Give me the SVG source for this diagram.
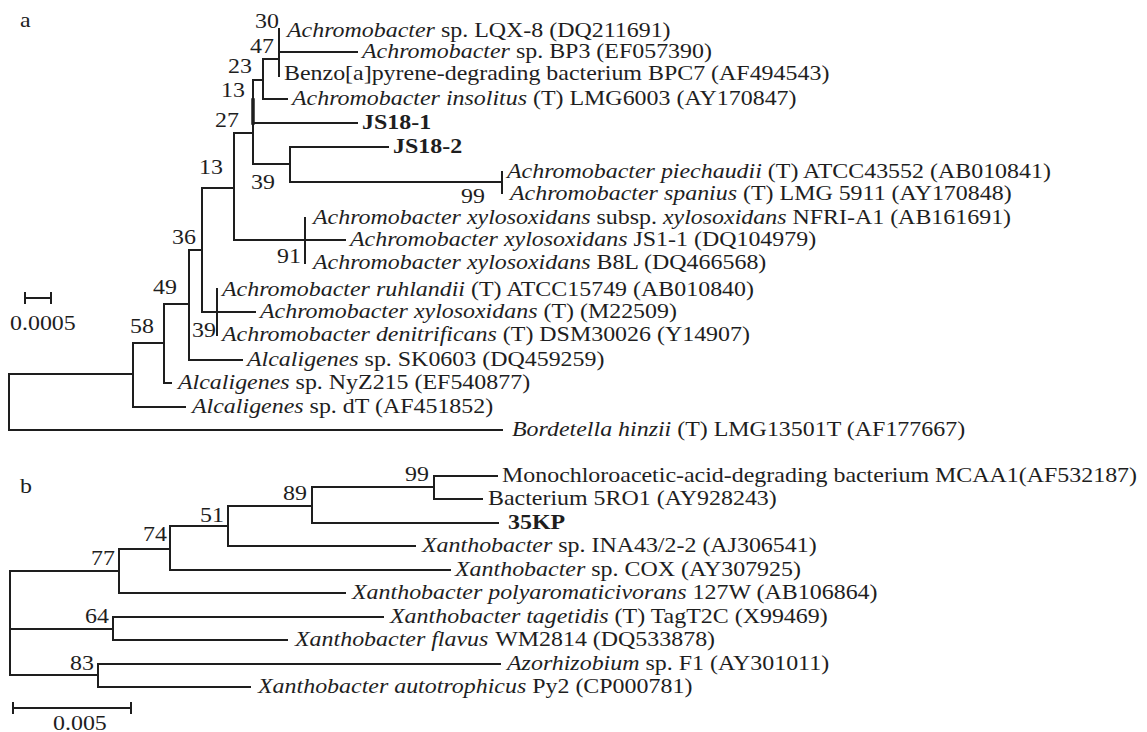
<svg xmlns="http://www.w3.org/2000/svg" width="1147" height="732" viewBox="0 0 1147 732">
<style>
text{font-family:"Liberation Serif","Times New Roman",serif;font-size:21px;fill:#1e1e1e}
.i{font-style:italic}
.b{font-weight:bold}
.br{fill:none;stroke:#1e1e1e;stroke-width:2;stroke-linecap:square}
</style>
<rect width="1147" height="732" fill="#fff"/>
<g id="connectors" class="br">
<path d="M9,374V430M9,374H133M133,343V407M133,343H164M133,407H185M164,304V383M164,383H171M164,304H189M189,250V360M189,360H242M189,250H202M202,188V312M202,312H255M217,289V335M202,188H234M234,133V240M234,240H345M305,218V263M234,133H253M253,80V164M253,164H290M290,147V182M290,147H388M290,182H502M502,172V193M253,123H357M253,80H263M263,59V99M263,99H287M263,59H279M279,29V76M279,52H357M9,430H502"/>
<path d="M253,100V123" stroke-width="3.5"/>
<path d="M25,298H51M25,293V303M51,293V303"/>
<path d="M10,571V675M10,571H119M119,549V593M119,593H345M119,549H170M170,526V570M170,570H450M170,526H228M228,506V546M228,546H415M228,506H312M312,487V523M312,523H498M312,487H434M434,476V499M434,476H497M434,499H482M10,629H113M113,617V640M113,617H383M113,640H287M10,675H98M98,664V687M98,664H500M98,687H250"/>
<path d="M13,708H131M13,703V713M131,703V713"/>
</g>
<g id="panel-labels">
<text transform="translate(20,27) scale(1.14,1)">a</text>
<text transform="translate(20,493) scale(1.14,1)">b</text>
</g>
<g id="bootstrap-a">
<text transform="translate(255,28) scale(1.14,1)">30</text>
<text transform="translate(250,53) scale(1.14,1)">47</text>
<text transform="translate(228,73) scale(1.14,1)">23</text>
<text transform="translate(221,97) scale(1.14,1)">13</text>
<text transform="translate(215,127) scale(1.14,1)">27</text>
<text transform="translate(199,174) scale(1.14,1)">13</text>
<text transform="translate(251,189) scale(1.14,1)">39</text>
<text transform="translate(461,203) scale(1.14,1)">99</text>
<text transform="translate(172,244) scale(1.14,1)">36</text>
<text transform="translate(277,263) scale(1.14,1)">91</text>
<text transform="translate(153,294) scale(1.14,1)">49</text>
<text transform="translate(130,333) scale(1.14,1)">58</text>
<text transform="translate(192,337) scale(1.14,1)">39</text>
<text transform="translate(10,330) scale(1.14,1)">0.0005</text>
</g>
<g id="leaf-a1"><text transform="translate(287,37) scale(1.14,1)"><tspan class="i">Achromobacter</tspan> sp. LQX-8 (DQ211691)</text></g>
<g id="leaf-a2"><text transform="translate(362,58) scale(1.14,1)"><tspan class="i">Achromobacter</tspan> sp. BP3 (EF057390)</text></g>
<g id="leaf-a3"><text transform="translate(284,80) scale(1.14,1)">Benzo[a]pyrene-degrading bacterium BPC7 (AF494543)</text></g>
<g id="leaf-a4"><text transform="translate(292,105) scale(1.14,1)"><tspan class="i">Achromobacter insolitus</tspan> (T) LMG6003 (AY170847)</text></g>
<g id="leaf-a5"><text class="b" transform="translate(362,129) scale(1.14,1)">JS18-1</text></g>
<g id="leaf-a6"><text class="b" transform="translate(393,153) scale(1.14,1)">JS18-2</text></g>
<g id="leaf-a7"><text transform="translate(507,178) scale(1.14,1)"><tspan class="i">Achromobacter piechaudii</tspan> (T) ATCC43552 (AB010841)</text></g>
<g id="leaf-a8"><text transform="translate(510,200) scale(1.14,1)"><tspan class="i">Achromobacter spanius</tspan> (T) LMG 5911 (AY170848)</text></g>
<g id="leaf-a9"><text transform="translate(313,224) scale(1.14,1)"><tspan class="i">Achromobacter xylosoxidans</tspan> subsp. <tspan class="i">xylosoxidans</tspan> NFRI-A1 (AB161691)</text></g>
<g id="leaf-a10"><text transform="translate(350,246) scale(1.14,1)"><tspan class="i">Achromobacter xylosoxidans</tspan> JS1-1 (DQ104979)</text></g>
<g id="leaf-a11"><text transform="translate(313,269) scale(1.14,1)"><tspan class="i">Achromobacter xylosoxidans</tspan> B8L (DQ466568)</text></g>
<g id="leaf-a12"><text transform="translate(222,296) scale(1.14,1)"><tspan class="i">Achromobacter ruhlandii</tspan> (T) ATCC15749 (AB010840)</text></g>
<g id="leaf-a13"><text transform="translate(260,318) scale(1.14,1)"><tspan class="i">Achromobacter xylosoxidans</tspan> (T) (M22509)</text></g>
<g id="leaf-a14"><text transform="translate(222,341) scale(1.14,1)"><tspan class="i">Achromobacter denitrificans</tspan> (T) DSM30026 (Y14907)</text></g>
<g id="leaf-a15"><text transform="translate(247,366) scale(1.14,1)"><tspan class="i">Alcaligenes</tspan> sp. SK0603 (DQ459259)</text></g>
<g id="leaf-a16"><text transform="translate(178,389) scale(1.14,1)"><tspan class="i">Alcaligenes</tspan> sp. NyZ215 (EF540877)</text></g>
<g id="leaf-a17"><text transform="translate(192,413) scale(1.14,1)"><tspan class="i">Alcaligenes</tspan> sp. dT (AF451852)</text></g>
<g id="leaf-a18"><text transform="translate(512,436) scale(1.14,1)"><tspan class="i">Bordetella hinzii</tspan> (T) LMG13501T (AF177667)</text></g>
<g id="bootstrap-b">
<text transform="translate(405,481) scale(1.14,1)">99</text>
<text transform="translate(283,500) scale(1.14,1)">89</text>
<text transform="translate(200,522) scale(1.14,1)">51</text>
<text transform="translate(143,541) scale(1.14,1)">74</text>
<text transform="translate(91,565) scale(1.14,1)">77</text>
<text transform="translate(85,623) scale(1.14,1)">64</text>
<text transform="translate(70,670) scale(1.14,1)">83</text>
<text transform="translate(53,730) scale(1.14,1)">0.005</text>
</g>
<g id="leaf-b1"><text transform="translate(502,482) scale(1.14,1)">Monochloroacetic-acid-degrading bacterium MCAA1(AF532187)</text></g>
<g id="leaf-b2"><text transform="translate(488,505) scale(1.14,1)">Bacterium 5RO1 (AY928243)</text></g>
<g id="leaf-b3"><text class="b" transform="translate(508,529) scale(1.14,1)">35KP</text></g>
<g id="leaf-b4"><text transform="translate(422,552) scale(1.14,1)"><tspan class="i">Xanthobacter</tspan> sp. INA43/2-2 (AJ306541)</text></g>
<g id="leaf-b5"><text transform="translate(455,576) scale(1.14,1)"><tspan class="i">Xanthobacter</tspan> sp. COX (AY307925)</text></g>
<g id="leaf-b6"><text transform="translate(352,599) scale(1.14,1)"><tspan class="i">Xanthobacter polyaromaticivorans</tspan> 127W (AB106864)</text></g>
<g id="leaf-b7"><text transform="translate(390,623) scale(1.14,1)"><tspan class="i">Xanthobacter tagetidis</tspan> (T) TagT2C (X99469)</text></g>
<g id="leaf-b8"><text transform="translate(295,646) scale(1.14,1)"><tspan class="i">Xanthobacter flavus</tspan><tspan dx="6">WM2814 (DQ533878)</tspan></text></g>
<g id="leaf-b9"><text transform="translate(507,670) scale(1.14,1)"><tspan class="i">Azorhizobium</tspan> sp. F1 (AY301011)</text></g>
<g id="leaf-b10"><text transform="translate(258,693) scale(1.14,1)"><tspan class="i">Xanthobacter autotrophicus</tspan> Py2 (CP000781)</text></g>
</svg>
